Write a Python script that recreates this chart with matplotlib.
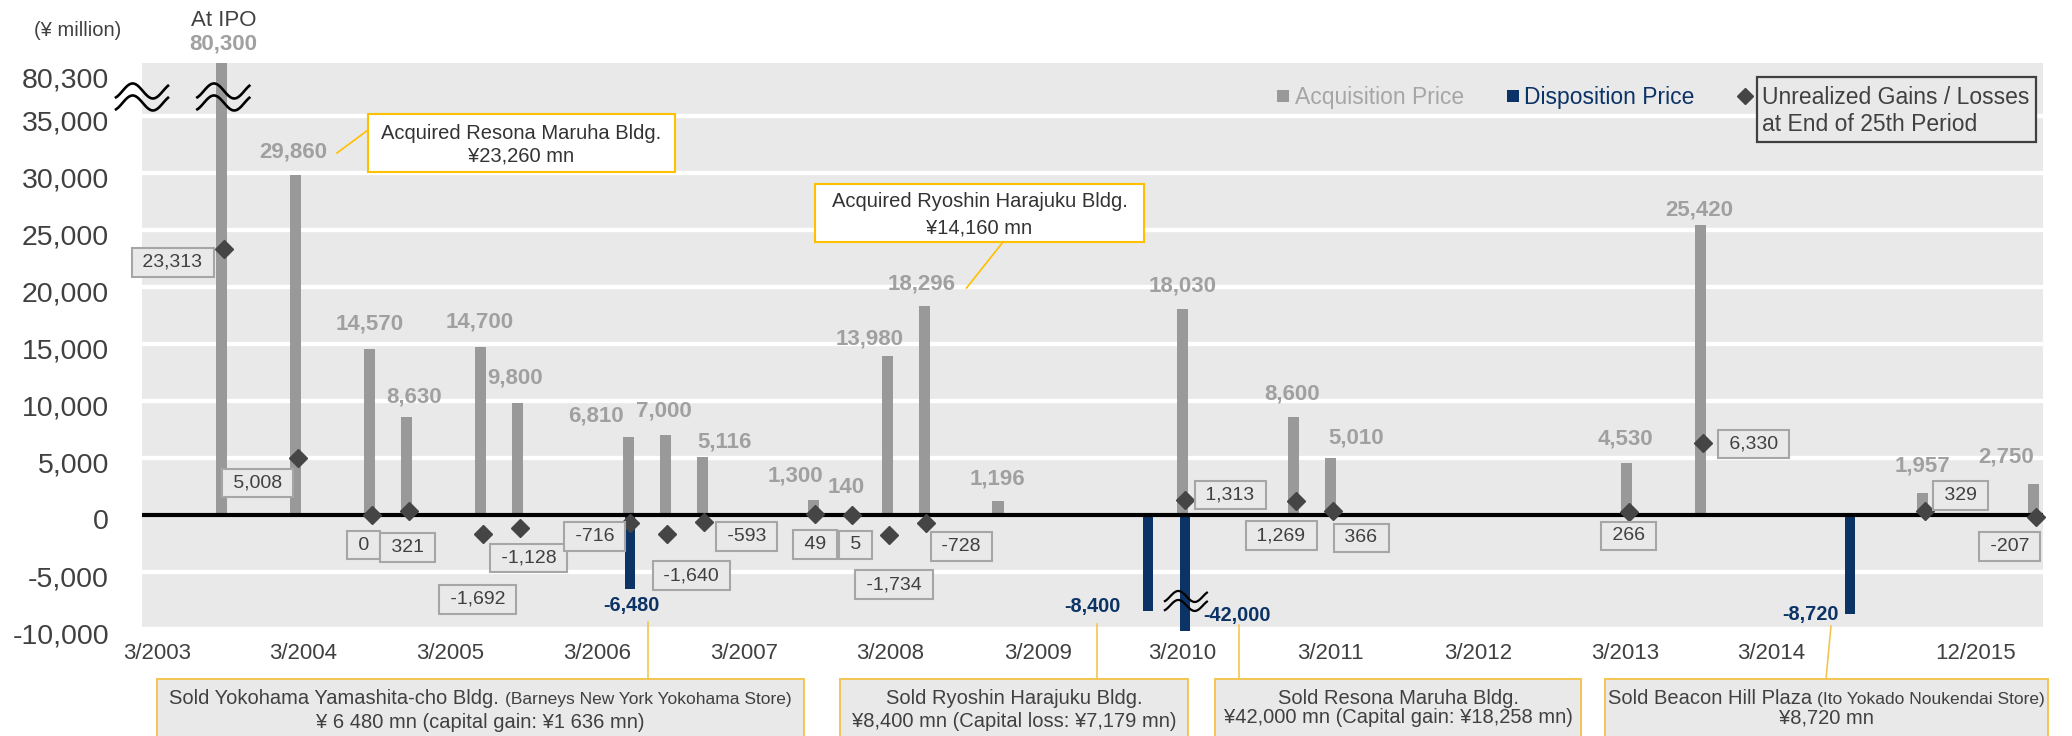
import matplotlib
matplotlib.use('Agg')
import matplotlib.pyplot as plt
import matplotlib.transforms as mtransforms
from matplotlib.patches import Rectangle
from matplotlib.lines import Line2D
import numpy as np

plt.rcParams['font.family'] = ['Liberation Sans', 'DejaVu Sans']

# ---------------- data ----------------
acq_quarter = [2, 4, 6, 7, 9, 10, 13, 14, 15, 18, 19, 20, 21, 23, 28, 31, 32, 40, 42, 48, 51]
acq_value = [80300, 29860, 14570, 8630, 14700, 9800, 6810, 7000, 5116, 1300, 140,
             13980, 18296, 1196, 18030, 8600, 5010, 4530, 25420, 1957, 2750]
disp_quarter = [13, 27, 28, 46]
disp_value = [-6480, -8400, -42000, -8720]
gain_quarter = [2, 4, 6, 7, 9, 10, 13, 14, 15, 18, 19, 20, 21, 28, 31, 32, 40, 42, 48, 51]
gain_value = [23313, 5008, 0, 321, -1692, -1128, -716, -1640, -593, 49, 5, -1734, -728,
              1313, 1269, 366, 266, 6330, 329, -207]
tick_labels = ['3/2003', '3/2004', '3/2005', '3/2006', '3/2007', '3/2008', '3/2009',
               '3/2010', '3/2011', '3/2012', '3/2013', '3/2014', '12/2015']
ipo_value = 80300

# ---------------- layout / style ----------------
W, H = 2072, 736
GRAY_BAR = '#999999'
NAVY = '#0C3366'
LBL_GRAY = '#A0A0A0'
TXT = '#404040'
BG = '#E9E9E9'
GOLD = '#FFC000'
GOLD2 = '#F3C552'

tick_pos = [0.26, 4.2, 8.18, 12.15, 16.12, 20.09, 24.08, 27.98, 32.0, 35.98, 39.95, 43.92, 49.44]
acq_lbl_off = [(-2, 23), (0, 25), (8, 20), (-1, 25), (-2, 25), (-32, 21), (-1, 24), (22, 15),
               (-18, 24), (-4, 26), (-17, 17), (-2, 22), (-1, 22), (0, 23), (-2, 23), (25, 20),
               (-1, 24), (-1, 15), (0, 27), (-27, 27)]
disp_lbl_off = [(1, -17), (-55, 4), (52, 15), (-40, 0)]
gain_lbl_off = [(-51, -13), (-40, -25), (-8, -30), (-1, -36), (-5, -65), (9, -30), (-36, -13),
                (24, -42), (42, -15), (0, -30), (3, -30), (5, -50), (35, -23), (45, 5),
                (-15, -35), (28, -27), (0, -24), (51, -1), (36, 16), (-26, -29)]


def fx(x):
    return x / W


def fy(y):
    return 1 - y / H


fig = plt.figure(figsize=(W / 100, H / 100), dpi=100)
ax = fig.add_axes([142 / W, 1 - 631 / H, (2043 - 142) / W, (631 - 63) / H])
ax.set_facecolor(BG)
for s in ax.spines.values():
    s.set_visible(False)

# gridlines
for g in range(-10000, 35001, 5000):
    ax.axhline(g, color='white', lw=3.1, zorder=0.5)

# bars
ax.bar(acq_quarter, acq_value, width=0.30, color=GRAY_BAR, zorder=2)
ax.bar([q + 0.05 for q in disp_quarter], disp_value, width=0.27, color=NAVY, zorder=2)
ax.axhline(0, color='black', lw=3, zorder=3)
ax.plot([q + 0.06 for q in gain_quarter], gain_value, ls='none', marker='D', ms=9,
        color='#454545', zorder=4, clip_on=False)

# acquisition labels
for q, v, (dx, dy) in zip(acq_quarter[1:], acq_value[1:], acq_lbl_off):
    ax.annotate(f'{v:,}', (q, v), xytext=(dx, dy), textcoords='offset pixels',
                ha='center', va='center', fontsize=16, fontweight='bold', color=LBL_GRAY,
                zorder=5)
ax.annotate(f'{ipo_value:,}', (acq_quarter[0], 1), xycoords=('data', 'axes fraction'),
            xytext=(2, 19), textcoords='offset pixels', ha='center', va='center',
            fontsize=16, fontweight='bold', color=LBL_GRAY, annotation_clip=False)
ax.annotate('At IPO', (acq_quarter[0], 1), xycoords=('data', 'axes fraction'),
            xytext=(2, 43), textcoords='offset pixels', ha='center', va='center',
            fontsize=16, color=TXT, annotation_clip=False)

# disposition labels
ylo = -10175
for q, v, (dx, dy) in zip(disp_quarter, disp_value, disp_lbl_off):
    ax.annotate(f'{v:,}', (q + 0.05, max(v, ylo)), xytext=(dx, dy), textcoords='offset pixels',
                ha='center', va='center', fontsize=14.3, fontweight='bold', color=NAVY,
                zorder=5, annotation_clip=False)

# unrealized gain labels
for q, v, (dx, dy) in zip(gain_quarter, gain_value, gain_lbl_off):
    ax.annotate(f' {v:,} ', (q + 0.06, v), xytext=(dx, dy), textcoords='offset pixels',
                ha='center', va='center', fontsize=14, color=TXT, zorder=5,
                annotation_clip=False,
                bbox=dict(boxstyle='square,pad=0.3', fc=BG, ec='#A6A6A6', lw=1.5))

# axes ticks
yt = list(range(-10000, 35001, 5000)) + [38700]
ytl = [f'{v:,}' for v in range(-10000, 35001, 5000)] + [f'{ipo_value:,}']
ax.set_yticks(yt, ytl)
ax.set_xticks(tick_pos, tick_labels)
ax.tick_params(axis='y', length=0, pad=23.8, labelsize=20.5, labelcolor=TXT)
ax.tick_params(axis='x', length=0, pad=8.5, labelsize=16, labelcolor=TXT)
shift = mtransforms.ScaledTranslation(0, -4 / 100, fig.dpi_scale_trans)
for lab in ax.get_yticklabels():
    lab.set_transform(lab.get_transform() + shift)


# break marks
def wave_break(x, y, base, w, amp, gap, lw=1.9):
    t = np.linspace(0, 1, 80)
    xs = (t - 0.5) * w
    us = amp * np.sin(2 * np.pi * (t - 0.125) / 0.78)
    trans = fig.dpi_scale_trans + mtransforms.ScaledTranslation(x, y, base)
    for off in (gap / 2, -gap / 2):
        ax.plot(xs / 100, (us + off) / 100, transform=trans, color='black', lw=lw,
                clip_on=False, zorder=6)


wave_break(0, 36670, ax.get_yaxis_transform(), 52, 7.5, 12)
wave_break(acq_quarter[0] + 0.05, 36670, ax.transData, 52, 7.5, 12)
wave_break(disp_quarter[2] + 0.08, -7540, ax.transData, 42, 5.5, 9, lw=1.6)

ax.set_xlim((142 - 147.5) / 36.98, (2043 - 147.5) / 36.98)
ax.set_ylim(ylo, 39650)

fig.text(fx(77.5), fy(30), '(¥ million)', fontsize=14.5, color=TXT, ha='center', va='center')


# ---------------- annotation boxes ----------------
def rect(x0, y0, x1, y1, fc, ec, lw, z=4):
    fig.add_artist(Rectangle((fx(x0), fy(y1)), (x1 - x0) / W, (y1 - y0) / H,
                             transform=fig.transFigure, fc=fc, ec=ec, lw=lw, zorder=z))


def fline(x0, y0, x1, y1, color, lw=1.2):
    fig.add_artist(Line2D([fx(x0), fx(x1)], [fy(y0), fy(y1)], transform=fig.transFigure,
                          color=color, lw=lw, zorder=4))


# top boxes
rect(368, 114, 675, 172, 'white', GOLD, 1.5)
fig.text(fx(521.5), fy(139), 'Acquired Resona Maruha Bldg.', fontsize=14.5, color='#333333',
         ha='center', va='baseline', zorder=6)
fig.text(fx(521.5), fy(162), '¥23,260 mn', fontsize=14.5, color='#333333',
         ha='center', va='baseline', zorder=6)
fline(337, 153, 368, 130, GOLD)

rect(815, 184, 1144, 242, 'white', GOLD, 1.5)
fig.text(fx(979.5), fy(207), 'Acquired Ryoshin Harajuku Bldg.', fontsize=14.5, color='#333333',
         ha='center', va='baseline', zorder=6)
fig.text(fx(979.5), fy(233), '¥14,160 mn', fontsize=14.5, color='#333333',
         ha='center', va='baseline', zorder=6)
fline(1003, 242, 966.5, 288, GOLD)

# bottom boxes
renderer = fig.canvas.get_renderer()


def composite(cx, yb, main, sub, fsm=14.5, fss=12.5):
    t1 = fig.text(0, fy(yb), main, fontsize=fsm, color=TXT, ha='left', va='baseline', zorder=6)
    t2 = fig.text(0, fy(yb), sub, fontsize=fss, color=TXT, ha='left', va='baseline', zorder=6)
    w1 = t1.get_window_extent(renderer).width
    w2 = t2.get_window_extent(renderer).width
    gap = 0.278 * fsm * 100 / 72
    x0 = cx - (w1 + gap + w2) / 2
    t1.set_x(fx(x0))
    t2.set_x(fx(x0 + w1 + gap))


boxes = [(157, 804), (840, 1188), (1215, 1581), (1605, 2048)]
for x0, x1 in boxes:
    rect(x0, 679, x1, 760, BG, GOLD2, 1.4)

composite((157 + 804) / 2, 704, 'Sold Yokohama Yamashita-cho Bldg.', '(Barneys New York Yokohama Store)')
fig.text(fx((157 + 804) / 2), fy(728), '¥ 6 480 mn (capital gain: ¥1 636 mn)', fontsize=14.5,
         color=TXT, ha='center', va='baseline', zorder=6)
fig.text(fx((840 + 1188) / 2), fy(704), 'Sold Ryoshin Harajuku Bldg.', fontsize=14.5,
         color=TXT, ha='center', va='baseline', zorder=6)
fig.text(fx((840 + 1188) / 2), fy(727), '¥8,400 mn (Capital loss: ¥7,179 mn)', fontsize=14.5,
         color=TXT, ha='center', va='baseline', zorder=6)
fig.text(fx((1215 + 1581) / 2), fy(704), 'Sold Resona Maruha Bldg.', fontsize=14.5,
         color=TXT, ha='center', va='baseline', zorder=6)
fig.text(fx((1215 + 1581) / 2), fy(723), '¥42,000 mn (Capital gain: ¥18,258 mn)', fontsize=14.5,
         color=TXT, ha='center', va='baseline', zorder=6)
composite((1605 + 2048) / 2, 704, 'Sold Beacon Hill Plaza', '(Ito Yokado Noukendai Store)')
fig.text(fx((1605 + 2048) / 2), fy(723), '¥8,720 mn', fontsize=14.5,
         color=TXT, ha='center', va='baseline', zorder=6)

fline(648, 679, 648, 622, GOLD2)
fline(1097, 679, 1097, 624, GOLD2)
fline(1239, 679, 1239, 625, GOLD2)
fline(1826, 679, 1831, 626, GOLD2)

# ---------------- legend ----------------
rect(1276.5, 90, 1288.5, 102, GRAY_BAR, 'none', 0, z=5)
fig.text(fx(1295), fy(104.2), 'Acquisition Price', fontsize=16.5, color='#A6A6A6',
         ha='left', va='baseline', zorder=6)
rect(1507, 90, 1519, 102, NAVY, 'none', 0, z=5)
fig.text(fx(1524.5), fy(104.2), 'Disposition Price', fontsize=16.5, color=NAVY,
         ha='left', va='baseline', zorder=6)
fig.add_artist(Line2D([fx(1744.5)], [fy(96)], transform=fig.transFigure, ls='none',
                      marker='D', ms=7.8, color='#454545', zorder=6))
rect(1756.6, 77, 2035.7, 142, BG, TXT, 1.6, z=5)
fig.text(fx(1762), fy(104.2), 'Unrealized Gains / Losses', fontsize=16.5, color=TXT,
         ha='left', va='baseline', zorder=6)
fig.text(fx(1762), fy(131.2), 'at End of 25th Period', fontsize=16.5, color=TXT,
         ha='left', va='baseline', zorder=6)

fig.savefig('out.png', dpi=100, facecolor='white')
